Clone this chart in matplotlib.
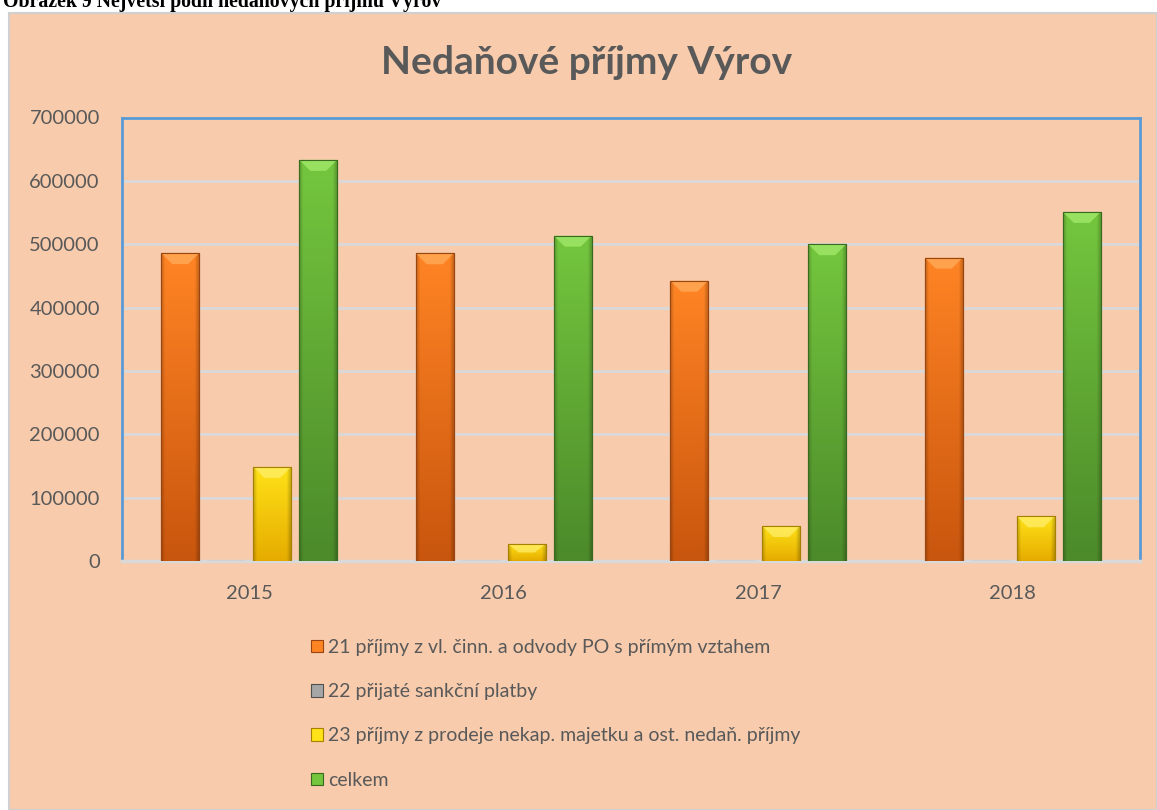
import numpy as np
import matplotlib
matplotlib.use("Agg")
import matplotlib.pyplot as plt
from matplotlib.patches import Rectangle, Polygon
from matplotlib.colors import to_rgb

# ---------------- data ----------------
years = ["2015", "2016", "2017", "2018"]
labels = [
    "21 příjmy z vl. činn. a odvody PO s přímým vztahem",
    "22 přijaté sankční platby",
    "23 příjmy z prodeje nekap. majetku a ost. nedaň. příjmy",
    "celkem",
]
s21 = [486000, 485700, 442400, 478800]
s22 = [0, 0, 0, 0]
s23 = [148600, 26900, 55300, 70600]
celkem = [633200, 513500, 500000, 551000]
yticks = [0, 100000, 200000, 300000, 400000, 500000, 600000, 700000]
title = "Nedaňové příjmy Výrov"
caption = "Obrázek 9 Největší podíl nedaňových příjmů Výrov"

# ---------------- style ----------------
FONT = ["Lato", "DejaVu Sans"]
plt.rcParams["font.family"] = FONT
W, H = 1157, 810
PEACH = "#F7CBAC"
TXT = "#595959"
GRID = "#D9D9D9"
BLUE = "#5B9BD5"

# (top colour, bottom colour, bevel colour, edge colour)
pal = [
    ("#FF8424", "#C9560E", "#FFB060", "#9A4510"),
    ("#A6A6A6", "#6E6E6E", "#D0D0D0", "#505050"),
    ("#FFE218", "#E6AC00", "#FFF070", "#A88000"),
    ("#74C63E", "#4C8A2A", "#A8EE70", "#3A6A20"),
]
series = [s21, s22, s23, celkem]

fig = plt.figure(figsize=(W / 100, H / 100), dpi=100)
fig.patch.set_facecolor("white")

# chart area background
bg = Rectangle((9 / W, 0), (W - 9) / W, 797 / H,
               transform=fig.transFigure, facecolor=PEACH,
               edgecolor="#D0D0D0", linewidth=1.5, zorder=-5)
fig.add_artist(bg)

# caption (cut off at the top, as in the reference)
fig.text(3 / W, 1 - 7 / H, caption, family=["Liberation Serif", "DejaVu Serif"],
         fontweight="bold", fontsize=14.3, va="baseline", ha="left", color="black")

# axes
ax_l, ax_r, ax_t, ax_b = 122, 1140, 117.5, 561
ax = fig.add_axes([ax_l / W, 1 - ax_b / H, (ax_r - ax_l) / W, (ax_b - ax_t) / H])
ax.set_zorder(1)
ax.set_facecolor(PEACH)
ax.set_xlim(-0.5, 3.5)
ax.set_ylim(0, 700000)
ax.set_yticks(yticks)
ax.set_yticklabels([str(v) for v in yticks])
ax.set_xticks(range(len(years)))
ax.set_xticklabels(years)
ax.tick_params(length=0, labelsize=14.5, labelcolor=TXT)
ax.tick_params(axis="y", pad=16)
ax.tick_params(axis="x", pad=17)
ax.yaxis.grid(True, color=GRID, linewidth=2)
ax.set_axisbelow(True)
for s in ("left", "top", "right"):
    ax.spines[s].set_color(BLUE)
    ax.spines[s].set_linewidth(2)
ax.spines["bottom"].set_color(GRID)
ax.spines["bottom"].set_linewidth(2.5)

pitch = 0.1807
width = 0.149
px_per_x = (ax_r - ax_l) / 4.0
px_per_y = (ax_b - ax_t) / 700000.0
bev_dx = 11 / px_per_x
bev_dy = 11 / px_per_y

for i, (vals, (ctop, cbot, cbev, cedge)) in enumerate(zip(series, pal)):
    off = (i - 1.5) * pitch
    bars = ax.bar(np.arange(len(years)) + off, vals, width=width,
                  color=cbot, edgecolor=cedge, linewidth=0.8, zorder=3,
                  label=labels[i])
    for b in bars:
        h = b.get_height()
        if h <= 0:
            continue
        x0 = b.get_x()
        x1 = x0 + b.get_width()
        # vertical gradient with darker sides
        n, m = 64, 32
        t = np.linspace(0, 1, n)[:, None, None]
        grad = np.array(to_rgb(ctop))[None, None, :] * (1 - t) + \
            np.array(to_rgb(cbot))[None, None, :] * t
        xs = np.linspace(-1, 1, m)
        side = 1 - 0.2 * np.clip((np.abs(xs) - 0.8) / 0.2, 0, 1)
        img = np.clip(grad * side[None, :, None], 0, 1)
        im = ax.imshow(img, extent=[x0, x1, 0, h], origin="upper",
                       aspect="auto", zorder=3.5, interpolation="bilinear")
        im.set_clip_path(b)
        # top bevel
        dy = min(bev_dy, h / 2)
        poly = Polygon([(x0, h), (x1, h), (x1 - bev_dx, h - dy), (x0 + bev_dx, h - dy)],
                       closed=True, facecolor=cbev, edgecolor="none", alpha=0.7,
                       zorder=3.7)
        ax.add_patch(poly)
        ax.add_patch(Rectangle((x0, 0), x1 - x0, h, facecolor="none",
                               edgecolor=cedge, linewidth=0.8, zorder=3.8))

ax.set_xlim(-0.5, 3.5)
ax.set_ylim(0, 700000)

# title
fig.text(587 / W, 1 - 63 / H, title, ha="center", va="center",
         fontsize=28, fontweight="bold", color=TXT)

# legend
handles = [Rectangle((0, 0), 1, 1, facecolor=p[0], edgecolor=p[3], linewidth=0.8)
           for p in pal]
leg = fig.legend(handles, labels, loc="upper left",
                 bbox_to_anchor=(311 / W, 1 - 639 / H),
                 frameon=False, fontsize=14, labelcolor=TXT,
                 handlelength=0.6, handleheight=0.6, handletextpad=0.3,
                 labelspacing=1.4, borderpad=0, borderaxespad=0)

fig.savefig("out.png", dpi=100, facecolor=fig.get_facecolor())
